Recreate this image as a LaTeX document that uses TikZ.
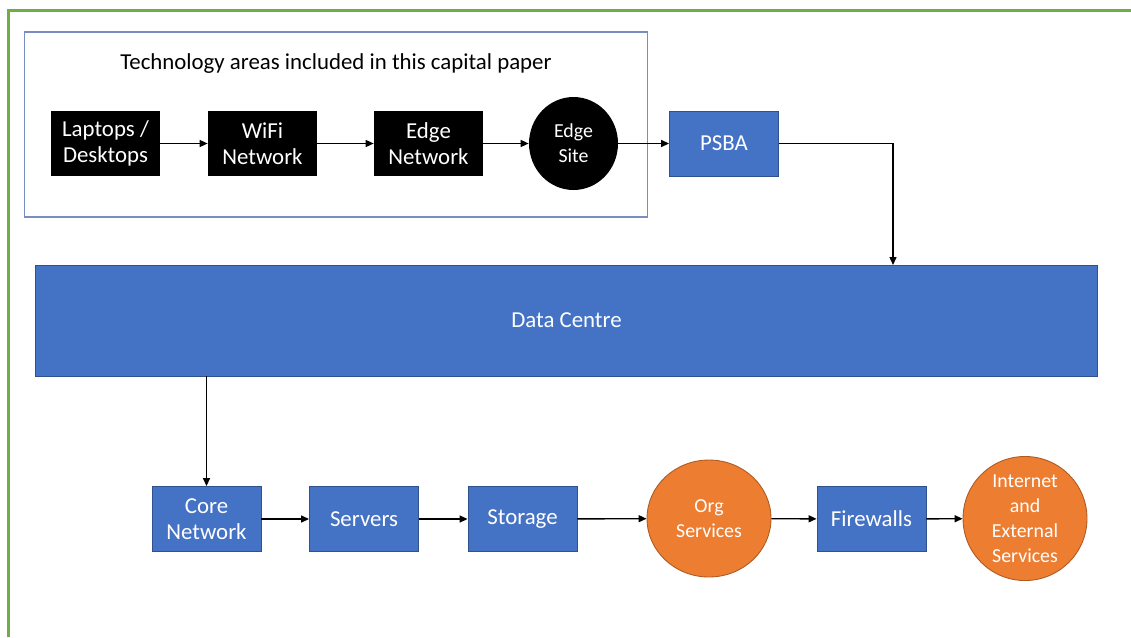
\documentclass[tikz,border=0pt]{standalone}
\usepackage{fontspec}
\setmainfont{Carlito}
\usetikzlibrary{arrows.meta,shapes.geometric}
\definecolor{offblue}{HTML}{4472C4}
\definecolor{offblueline}{HTML}{2F528F}
\definecolor{offorange}{HTML}{ED7D31}
\definecolor{offorangeline}{HTML}{AE5A21}
\definecolor{pagegreen}{HTML}{70AD47}
\definecolor{scopeline}{RGB}{120,142,192}
\begin{document}
\begin{tikzpicture}[x=0.02cm,y=-0.02cm,
    bigtext/.style={font=\fontsize{13}{14.8}\selectfont},
    smalltext/.style={font=\fontsize{11.3}{14.2}\selectfont},
    blackbox/.style={bigtext,fill=black,text=white,align=center,inner sep=0pt,minimum width=2.18cm,minimum height=1.3cm},
    bluebox/.style={bigtext,fill=offblue,draw=offblueline,line width=0.5pt,text=white,align=center,inner sep=0pt,minimum width=2.18cm,minimum height=1.3cm},
    orangeblob/.style={smalltext,ellipse,fill=offorange,draw=offorangeline,line width=0.5pt,text=white,align=center,inner sep=0pt,minimum width=2.48cm,minimum height=2.34cm},
    arr/.style={-{Triangle[length=0.16cm,width=0.14cm]},line width=0.8pt}]
                \useasboundingbox (0,0) rectangle (1131,637);
                \draw[pagegreen,line width=1.2pt] (8.5,637) -- (8.5,10.5) -- (1131,10.5);

                % areas covered by the paper
                \draw[scopeline,line width=0.7pt] (24.5,32) rectangle (647.5,217);
                \node[bigtext] (title) at (336,64) {Technology areas included in this capital paper};

                \node[blackbox] (laptops) at (105.5,143.5) {Laptops /\\Desktops};
                \node[blackbox] (wifi) at (262.5,143.5) {WiFi\\Network};
                \node[blackbox] (edgenet) at (428.5,143.5) {Edge\\Network};
                \node[smalltext,ellipse,fill=black,text=white,align=center,inner sep=0pt,minimum width=1.78cm,minimum height=1.86cm] (edgesite) at (573.5,143.5) {Edge\\Site};

                \node[bluebox] (psba) at (724,143.5) {PSBA};
                \node[bluebox,minimum width=21.26cm,minimum height=2.22cm] (dc) at (566.5,320.5) {Data Centre};
                \coordinate (dcin) at (893,265);

                \node[bluebox] (core) at (206.5,519) {Core\\Network};
                \node[bluebox] (servers) at (364,519) {Servers};
                \node[bluebox] (storage) at (522.5,519) {Storage};
                \node[orangeblob] (org) at (709,518.5) {Org\\Services};
                \node[bluebox] (firewalls) at (871.5,519) {Firewalls};
                \node[orangeblob] (internet) at (1025,518.5) {Internet\\and\\External\\Services};

                \draw[arr] (laptops) -- (wifi);
                \draw[arr] (wifi) -- (edgenet);
                \draw[arr] (edgenet) -- (edgesite);
                \draw[arr] (edgesite) -- (psba);
                \draw[arr] (psba.east) -| (dcin);
                \draw[arr] (dc.south -| core.north) -- (core.north);
                \draw[arr] (core) -- (servers);
                \draw[arr] (servers) -- (storage);
                \draw[arr] (storage) -- (org);
                \draw[arr] (org) -- (firewalls);
                \draw[arr] (firewalls) -- (internet);
            \end{tikzpicture}
\end{document}
